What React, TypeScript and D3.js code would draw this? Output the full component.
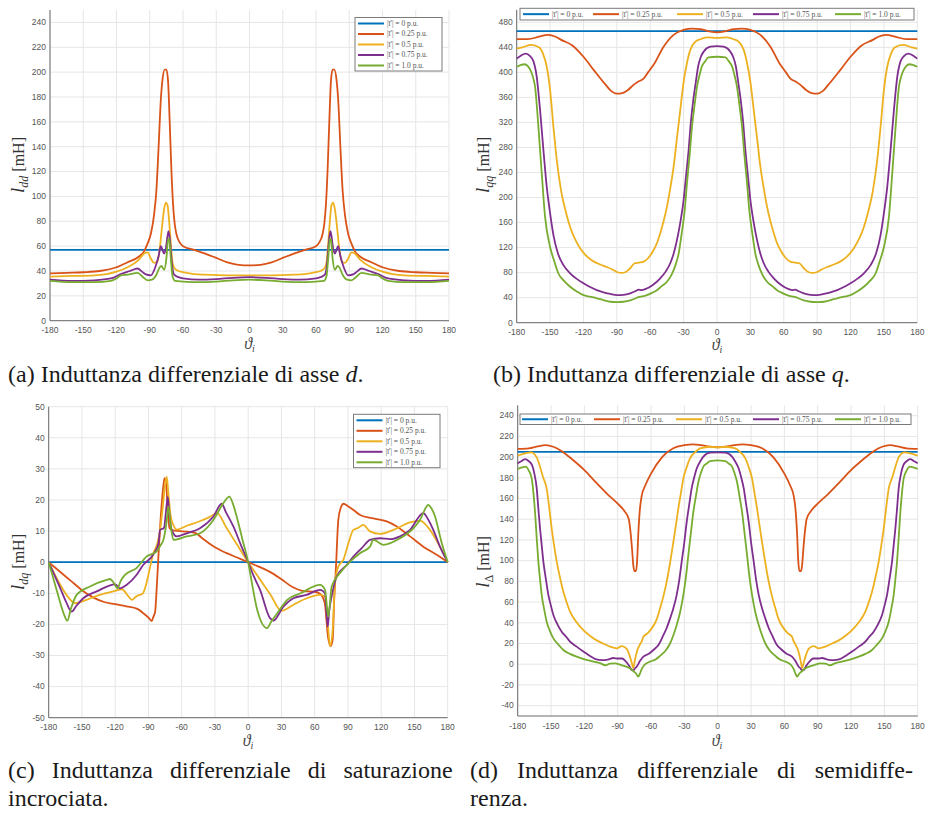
import React from 'react';
import * as d3 from 'd3';

type Pt = [number, number];

// ---- shared axis ticks and legend ----
const thetaTicks = [-180, -150, -120, -90, -60, -30, 0, 30, 60, 90, 120, 150, 180];
const lddTicks = [0, 20, 40, 60, 80, 100, 120, 140, 160, 180, 200, 220, 240];
const lqqTicks = [0, 40, 80, 120, 160, 200, 240, 280, 320, 360, 400, 440, 480];
const ldqTicks = [-50, -40, -30, -20, -10, 0, 10, 20, 30, 40, 50];
const lDeltaTicks = [-40, -20, 0, 20, 40, 60, 80, 100, 120, 140, 160, 180, 200, 220, 240];

const currentLabels = [
  "|ī'| = 0 p.u.",
  "|ī'| = 0.25 p.u.",
  "|ī'| = 0.5 p.u.",
  "|ī'| = 0.75 p.u.",
  "|ī'| = 1.0 p.u.",
];
const seriesColors = ['#0072BD', '#D95319', '#EDB120', '#7E2F8E', '#77AC30'];

// ---- (a) l_dd [mH] vs theta_i ----
const ldd00: Pt[] = [[-180, 57], [180, 57]];
const ldd25: Pt[] = [[-180, 38], [-165, 38.5], [-150, 39], [-135, 40], [-120, 43], [-110, 47], [-100, 51.5], [-95, 56], [-92, 62], [-89, 70], [-86, 86], [-84, 105], [-82, 140], [-80, 178], [-78.5, 194], [-76.5, 202], [-75, 202], [-73.5, 193], [-72, 160], [-70.5, 122], [-69, 94], [-67.5, 78], [-66, 70], [-63, 63], [-60, 60], [-50, 57], [-40, 54], [-30, 50.5], [-20, 47], [-10, 45], [0, 44.5],
  [10, 45], [20, 47], [30, 50.5], [40, 54], [50, 57], [60, 60], [63, 63], [66, 70], [67.5, 78], [69, 94], [70.5, 122], [72, 160], [73.5, 193], [75, 202], [76.5, 202], [78.5, 194], [80, 178], [82, 140], [84, 105], [86, 86], [89, 70], [92, 62], [95, 56], [100, 51.5], [110, 47], [120, 43], [135, 40], [150, 39], [165, 38.5], [180, 38]];
const ldd50: Pt[] = [[-180, 35.5], [-160, 36], [-140, 36.5], [-120, 39.5], [-110, 43], [-100, 49], [-95, 54], [-92, 55], [-89, 50], [-86, 46.5], [-83, 48], [-81, 58], [-79, 75], [-77, 90], [-75.5, 95], [-74, 93], [-72.5, 80], [-71, 62], [-69.5, 47], [-67.5, 42], [-64, 40], [-60, 39], [-50, 37.5], [-40, 37], [-20, 36.5], [0, 36.5],
  [20, 36.5], [40, 37], [50, 37.5], [60, 39], [64, 40], [67.5, 42], [69.5, 47], [71, 62], [72.5, 80], [74, 93], [75.5, 95], [77, 90], [79, 75], [81, 58], [83, 48], [86, 46.5], [89, 50], [92, 55], [95, 54], [100, 49], [110, 43], [120, 39.5], [140, 36.5], [160, 36], [180, 35.5]];
const ldd75: Pt[] = [[-180, 33], [-160, 32], [-140, 32.5], [-125, 34], [-115, 38], [-108, 40], [-101, 42], [-97, 39.5], [-94, 37.5], [-89, 36.5], [-85, 43], [-82, 52], [-80, 60], [-78.5, 57], [-77, 54], [-75.5, 58], [-74, 68], [-73, 72], [-71.5, 62], [-70, 46], [-68, 37], [-64, 35], [-60, 34], [-45, 33], [-30, 33.5], [-15, 34.5], [0, 35],
  [15, 34.5], [30, 33.5], [45, 33], [60, 34], [64, 35], [68, 37], [70, 46], [71.5, 62], [73, 72], [74, 68], [75.5, 58], [77, 54], [78.5, 57], [80, 60], [82, 52], [85, 43], [89, 36.5], [94, 37.5], [97, 39.5], [101, 42], [108, 40], [115, 38], [125, 34], [140, 32.5], [160, 32], [180, 33]];
const ldd100: Pt[] = [[-180, 32], [-160, 31], [-140, 31], [-125, 32], [-120, 34], [-116, 36.5], [-110, 37], [-101, 38.5], [-96, 35], [-92, 32.5], [-88, 33], [-84, 37], [-81, 43], [-79.5, 44], [-77, 41], [-75, 50], [-73.5, 65], [-72.5, 66], [-71, 50], [-69.5, 36], [-67, 32], [-60, 31.5], [-45, 31], [-30, 31.5], [-15, 32.5], [0, 33],
  [15, 32.5], [30, 31.5], [45, 31], [60, 31.5], [67, 32], [69.5, 36], [71, 50], [72.5, 66], [73.5, 65], [75, 50], [77, 41], [79.5, 44], [81, 43], [84, 37], [88, 33], [92, 32.5], [96, 35], [101, 38.5], [110, 37], [116, 36.5], [120, 34], [125, 32], [140, 31], [160, 31], [180, 32]];

// ---- (b) l_qq [mH] vs theta_i ----
const lqq00: Pt[] = [[-180, 466], [180, 466]];
const lqq25: Pt[] = [[-180, 453], [-170, 453], [-160, 457], [-152, 460], [-145, 457], [-140, 452], [-130, 443], [-120, 425], [-110, 402], [-100, 380], [-95, 370], [-90, 366], [-85, 367], [-80, 372], [-75, 380], [-71, 385], [-66, 390], [-62, 400], [-57, 412], [-48, 441], [-39, 460], [-30, 468], [-22, 470], [-15, 469], [-8, 466], [0, 464],
  [8, 466], [15, 469], [22, 470], [30, 468], [39, 460], [48, 441], [57, 412], [62, 400], [66, 390], [71, 385], [75, 380], [80, 372], [85, 367], [90, 366], [95, 370], [100, 380], [110, 402], [120, 425], [130, 443], [140, 452], [145, 457], [152, 460], [160, 457], [170, 453], [180, 453]];
const lqq50: Pt[] = [[-180, 438], [-175, 440], [-167, 444], [-160, 440], [-156, 428], [-153, 409], [-150, 372], [-147, 313], [-144, 260], [-140, 210], [-136, 178], [-132, 153], [-128, 135], [-123, 119], [-117, 106], [-111, 98], [-105, 93], [-99, 89], [-94, 85], [-90, 81], [-86, 79.5], [-82, 81], [-78, 87], [-74, 95], [-70, 96], [-66, 97.5], [-62, 103], [-58, 113], [-54, 127], [-51, 143], [-48, 162], [-45, 185], [-42, 215], [-39, 249], [-36, 295], [-33, 340], [-30, 385], [-27, 415], [-24, 436], [-20, 448], [-15, 453], [-9, 456], [0, 455],
  [9, 456], [15, 453], [20, 448], [24, 436], [27, 415], [30, 385], [33, 340], [36, 295], [39, 249], [42, 215], [45, 185], [48, 162], [51, 143], [54, 127], [58, 113], [62, 103], [66, 97.5], [70, 96], [74, 95], [78, 87], [82, 81], [86, 79.5], [90, 81], [94, 85], [99, 89], [105, 93], [111, 98], [117, 106], [123, 119], [128, 135], [132, 153], [136, 178], [140, 210], [144, 260], [147, 313], [150, 372], [153, 409], [156, 428], [160, 440], [167, 444], [175, 440], [180, 438]];
const lqq75: Pt[] = [[-180, 422], [-176, 427], [-172, 430], [-168, 426], [-165, 418], [-162, 393], [-159, 340], [-156, 276], [-153, 217], [-150, 175], [-147, 140], [-143, 111], [-138, 92], [-132, 79], [-126, 70], [-120, 63], [-114, 57], [-108, 52], [-102, 48.5], [-96, 46], [-90, 44], [-84, 44.5], [-78, 47], [-72.5, 51], [-70.5, 53], [-68, 52], [-64, 54], [-58, 60], [-51, 71], [-46, 82], [-42, 95], [-39, 110], [-36, 132], [-33, 160], [-30, 196], [-27.5, 240], [-25.5, 276], [-23.5, 320], [-21.3, 356], [-19, 385], [-17, 409], [-14.5, 425], [-12, 433], [-6, 441], [0, 442],
  [6, 441], [12, 433], [14.5, 425], [17, 409], [19, 385], [21.3, 356], [23.5, 320], [25.5, 276], [27.5, 240], [30, 196], [33, 160], [36, 132], [39, 110], [42, 95], [46, 82], [51, 71], [58, 60], [64, 54], [68, 52], [70.5, 53], [72.5, 51], [78, 47], [84, 44.5], [90, 44], [96, 46], [102, 48.5], [108, 52], [114, 57], [120, 63], [126, 70], [132, 79], [138, 92], [143, 111], [147, 140], [150, 175], [153, 217], [156, 276], [159, 340], [162, 393], [165, 418], [168, 426], [172, 430], [176, 427], [180, 422]];
const lqq100: Pt[] = [[-180, 409], [-176, 412], [-173, 413], [-170, 410], [-167, 401], [-165, 390], [-163.5, 377], [-160.5, 313], [-157.5, 239], [-154.5, 169], [-150, 121], [-146, 97], [-142.6, 79], [-137, 66], [-132, 57.5], [-126, 50], [-120, 44], [-114, 41.5], [-108, 39], [-102, 36], [-96, 33.5], [-90, 33], [-84, 33.5], [-78, 35.5], [-73, 39], [-70.7, 41], [-67, 42], [-63, 44], [-58, 48], [-54, 52], [-50, 58], [-45, 65.5], [-41, 76], [-37.7, 90], [-34.5, 110], [-31.7, 143], [-29, 180], [-27, 223], [-24.5, 270], [-22.5, 313], [-20, 350], [-18, 377], [-15.5, 397], [-13.7, 409], [-10.5, 418], [-7.7, 424], [0, 425],
  [7.7, 424], [10.5, 418], [13.7, 409], [15.5, 397], [18, 377], [20, 350], [22.5, 313], [24.5, 270], [27, 223], [29, 180], [31.7, 143], [34.5, 110], [37.7, 90], [41, 76], [45, 65.5], [50, 58], [54, 52], [58, 48], [63, 44], [67, 42], [70.7, 41], [73, 39], [78, 35.5], [84, 33.5], [90, 33], [96, 33.5], [102, 36], [108, 39], [114, 41.5], [120, 44], [126, 50], [132, 57.5], [137, 66], [142.6, 79], [146, 97], [150, 121], [154.5, 169], [157.5, 239], [160.5, 313], [163.5, 377], [165, 390], [167, 401], [170, 410], [173, 413], [176, 412], [180, 409]];

// ---- (c) l_dq [mH] vs theta_i ----
const ldq00: Pt[] = [[-180, 0], [180, 0]];
const ldq25: Pt[] = [[-180, 0], [-170, -3], [-160, -6], [-150, -9], [-140, -11.3], [-130, -12.8], [-120, -13.5], [-110, -14.2], [-100, -15], [-95, -16.3], [-90, -17.8], [-87, -18.9], [-85.5, -17.5], [-84, -16], [-82.5, -8], [-81, 2], [-79, 14], [-77, 23], [-75.5, 27], [-74, 25], [-72.5, 16], [-71, 11], [-68, 10.2], [-62, 10], [-55, 9.8], [-48, 9.4], [-40, 7.3], [-30, 4.8], [-20, 3], [-10, 1.5], [0, 0],
  [10, -1.5], [20, -3.2], [30, -5.5], [40, -8], [50, -9.3], [60, -9.5], [65, -10.2], [69, -13], [72, -24], [74.4, -27], [76.2, -25], [77.7, -11], [79, -3], [81.3, 13.6], [83.5, 17.5], [86, 18.8], [90, 18], [95, 16.8], [101, 15.2], [113, 14.1], [125, 13.1], [134, 11.5], [146, 8.3], [158, 5], [170, 2.4], [180, 0]];
const ldq50: Pt[] = [[-180, 0], [-170, -7], [-163, -11], [-156, -13.2], [-146, -12.1], [-134, -10.5], [-120, -9.2], [-114, -8.7], [-108, -11], [-105, -12.1], [-101, -11], [-95, -10], [-92, -7], [-90, -4], [-86, 2.4], [-82, 6], [-79.5, 10.4], [-77, 18], [-75, 25], [-73.5, 27.5], [-72, 22], [-70, 15], [-67, 11.5], [-64.5, 10.5], [-55, 11.8], [-45, 13], [-35, 14.5], [-28, 15.8], [-20, 11.3], [-10, 5.6], [0, 0],
  [10, -5.2], [20, -10.4], [30, -15.6], [40.8, -13.7], [52.8, -11.6], [64.8, -10.5], [69.3, -11], [72.3, -21.8], [73.8, -27], [76.2, -21.8], [78.3, -6.8], [81.3, -1.4], [85.9, 0.8], [90.4, 6.1], [94.9, 10.4], [99, 11], [103.9, 12], [109.9, 9.9], [118.9, 9.1], [131, 10.4], [146, 12.8], [155, 13.4], [164, 10.4], [173, 5], [180, 0]];
const ldq75: Pt[] = [[-180, 0], [-170, -8], [-164, -13], [-159.3, -15.9], [-155, -14], [-148.8, -11.6], [-136.8, -9.4], [-120, -7.1], [-115.8, -8.4], [-109.8, -7.3], [-100.8, -4.1], [-94.8, -0.9], [-85.8, 2.4], [-81, 6], [-79.5, 10.4], [-76, 11], [-74, 17], [-72.6, 21], [-71, 15], [-69, 10.4], [-64.5, 8.3], [-55.5, 9.3], [-43.5, 10.9], [-31.4, 14.7], [-23.9, 18.8], [-20, 16], [-13.4, 11.5], [-6, 5], [0, 0],
  [5, -4.5], [10.7, -8.9], [19.7, -18], [22.7, -18.8], [31.7, -14.3], [40.8, -11.6], [52.8, -10.5], [64.8, -8.9], [69.3, -10], [71.7, -20.7], [73.2, -15.3], [75.3, -11], [79.8, -4.6], [88.8, -0.9], [94.9, 1.8], [102.4, 4.5], [109.9, 7.2], [118.9, 7.7], [128, 7.4], [137, 8.3], [146, 10.4], [158, 15.8], [162, 14], [167, 10.4], [173, 5], [180, 0]];
const ldq100: Pt[] = [[-180, 0], [-172, -10], [-167, -16], [-163.2, -18.8], [-160, -15], [-154.8, -10.5], [-142.8, -7.8], [-127.8, -5.7], [-124.8, -5.4], [-121, -6.8], [-118, -8.4], [-115, -6], [-111.2, -4.1], [-100.8, -1.9], [-91.8, 1.8], [-82.8, 3.4], [-79, 5.5], [-76.5, 7.2], [-74, 12], [-72, 17.9], [-70, 12], [-67.5, 7.2], [-55.5, 8.3], [-43.5, 9.3], [-31.4, 13.6], [-22.4, 19], [-17, 21.1], [-14, 19], [-10.4, 14.7], [-5, 7], [0, 0],
  [4, -8], [8.1, -15.3], [17, -21.2], [21, -19], [26.2, -16.4], [35.2, -12.1], [47.2, -10], [64.8, -7.3], [69.3, -8.9], [72.3, -17.5], [75.3, -7.8], [82.8, -3.5], [91.9, 0.2], [100.9, 2.9], [109.9, 5], [113, 7.2], [117, 6.5], [122, 5.6], [137, 7.7], [149, 10.9], [155, 13.6], [162.5, 18.4], [165, 17.5], [168.6, 14.7], [174, 7], [180, 0]];

// ---- (d) l_Delta [mH] vs theta_i ----
const lD00: Pt[] = [[-180, 205], [180, 205]];
const lD25: Pt[] = [[-180, 208], [-170, 208.5], [-163, 210], [-155, 211.5], [-148, 210], [-140, 205.5], [-130, 197], [-120, 187.5], [-110, 176], [-100, 165], [-90, 155], [-84, 148], [-80, 140], [-78.5, 128], [-77, 110], [-76, 96], [-75, 90], [-73.5, 90], [-72.5, 100], [-71.5, 125], [-70, 150], [-68.5, 162], [-65, 173], [-60, 184], [-50, 200], [-40, 208.5], [-30, 211.5], [-22, 212.3], [-15, 211.5], [-7, 210], [0, 209.5],
  [7, 210], [15, 211.5], [22, 212.3], [30, 211.5], [40, 208.5], [50, 200], [60, 184], [65, 173], [68.5, 162], [70, 150], [71.5, 125], [72.5, 100], [73.5, 90], [75, 90], [76, 96], [77, 110], [78.5, 128], [80, 140], [84, 148], [90, 155], [100, 165], [110, 176], [120, 187.5], [130, 197], [140, 205.5], [148, 210], [155, 211.5], [163, 210], [170, 208.5], [180, 208]];
const lD50: Pt[] = [[-180, 201.4], [-175, 203], [-168, 204.6], [-163, 200], [-160, 191], [-157, 180], [-154, 170], [-151.5, 150], [-149.4, 131], [-147, 113], [-144.9, 99], [-142, 84], [-138.9, 70], [-136, 60], [-132.9, 50.7], [-128, 42], [-120.9, 33], [-115, 27.5], [-108.9, 23], [-103, 20], [-96.9, 17], [-90.9, 15.3], [-86.4, 17.5], [-82, 15], [-79.5, 9], [-77.5, 2], [-76, -3.5], [-74.5, 4], [-72.5, 13], [-70.5, 18], [-68, 23], [-66.9, 26.6], [-63, 30], [-59.4, 34.6], [-55, 43], [-51.9, 54], [-49, 65], [-45.9, 79.7], [-43, 97], [-39.9, 118], [-37.5, 135], [-35.4, 150.5], [-33, 166], [-30.9, 179.5], [-28, 190], [-24.9, 198.8], [-20, 205], [-15.9, 208.5], [-6.9, 210], [0, 209.4],
  [6.9, 210], [15.9, 208.5], [20, 205], [24.9, 198.8], [28, 190], [30.9, 179.5], [33, 166], [35.4, 150.5], [37.5, 135], [39.9, 118], [43, 97], [45.9, 79.7], [49, 65], [51.9, 54], [55, 43], [59.4, 34.6], [63, 30], [66.9, 26.6], [68, 23], [70.5, 18], [72.5, 13], [74.5, 4], [76, -3.5], [77.5, 2], [79.5, 9], [82, 15], [86.4, 17.5], [90.9, 15.3], [96.9, 17], [103, 20], [108.9, 23], [115, 27.5], [120.9, 33], [128, 42], [132.9, 50.7], [136, 60], [138.9, 70], [142, 84], [144.9, 99], [147, 113], [149.4, 131], [151.5, 150], [154, 170], [157, 180], [160, 191], [163, 200], [168, 204.6], [175, 203], [180, 201.4]];
const lD75: Pt[] = [[-180, 194], [-176, 196.5], [-173.4, 198], [-170, 196], [-167, 192], [-165, 184], [-162.9, 170], [-161.4, 150], [-159.9, 131], [-158.4, 115], [-156.9, 99], [-154.6, 82], [-152.4, 67], [-150, 56], [-147.9, 47.5], [-144, 38], [-140.4, 31.4], [-136, 26], [-132.9, 21.8], [-127, 17], [-120.9, 12.2], [-115, 8], [-110, 5], [-104, 4], [-99, 4.5], [-94, 6], [-90, 5.5], [-86, 5.5], [-83, 3], [-80, -1], [-77.5, -5.5], [-76, -6], [-74.5, -4], [-72.9, -2.4], [-70, 3], [-66.9, 7.3], [-62, 10], [-57.9, 13.7], [-53, 19], [-48.9, 28], [-45.9, 35], [-42.9, 44], [-39.9, 54], [-36.9, 67], [-34.5, 82], [-32.4, 99], [-30, 118], [-27.9, 137.5], [-25.5, 155], [-23.4, 170], [-21, 181], [-18.9, 189], [-15.9, 195.5], [-12.9, 200.4], [-6.9, 204.3], [0, 204.6],
  [6.9, 204.3], [12.9, 200.4], [15.9, 195.5], [18.9, 189], [21, 181], [23.4, 170], [25.5, 155], [27.9, 137.5], [30, 118], [32.4, 99], [34.5, 82], [36.9, 67], [39.9, 54], [42.9, 44], [45.9, 35], [48.9, 28], [53, 19], [57.9, 13.7], [62, 10], [66.9, 7.3], [70, 3], [72.9, -2.4], [74.5, -4], [76, -6], [77.5, -5.5], [80, -1], [83, 3], [86, 5.5], [90, 5.5], [94, 6], [99, 4.5], [104, 4], [110, 5], [115, 8], [120.9, 12.2], [127, 17], [132.9, 21.8], [136, 26], [140.4, 31.4], [144, 38], [147.9, 47.5], [150, 56], [152.4, 67], [154.6, 82], [156.9, 99], [158.4, 115], [159.9, 131], [161.4, 150], [162.9, 170], [165, 184], [167, 192], [170, 196], [173.4, 198], [176, 196.5], [180, 194]];
const lD100: Pt[] = [[-180, 188.5], [-176, 190], [-173, 190.8], [-170, 187], [-167.4, 179.5], [-165.8, 165], [-164.4, 147], [-162.9, 122], [-161.4, 99], [-159.9, 82], [-158.4, 67], [-156, 52], [-153.9, 41], [-151, 32], [-147.9, 25], [-143, 18.5], [-138.9, 13.7], [-133, 10], [-126.9, 7.3], [-119, 4.5], [-111.9, 2.5], [-106, 1], [-101, -1], [-97, 0.5], [-92, 0.8], [-88, -0.5], [-83, -2], [-79, -4], [-76, -6.5], [-73.5, -9], [-71.5, -12], [-70, -9], [-68.5, -5], [-66, -0.8], [-61, 2.5], [-56, 4.5], [-51.9, 8], [-47, 13], [-42.9, 20], [-39.9, 28], [-36.9, 37.8], [-33.9, 50], [-30.9, 67], [-28.5, 85], [-26.4, 105.5], [-24, 128], [-21.9, 147], [-19.5, 163], [-17.4, 176], [-15, 185], [-12.9, 190.8], [-9.5, 194], [-6.9, 196.2], [0, 196.9],
  [6.9, 196.2], [9.5, 194], [12.9, 190.8], [15, 185], [17.4, 176], [19.5, 163], [21.9, 147], [24, 128], [26.4, 105.5], [28.5, 85], [30.9, 67], [33.9, 50], [36.9, 37.8], [39.9, 28], [42.9, 20], [47, 13], [51.9, 8], [56, 4.5], [61, 2.5], [66, -0.8], [68.5, -5], [70, -9], [71.5, -12], [73.5, -9], [76, -6.5], [79, -4], [83, -2], [88, -0.5], [92, 0.8], [97, 0.5], [101, -1], [106, 1], [111.9, 2.5], [119, 4.5], [126.9, 7.3], [133, 10], [138.9, 13.7], [143, 18.5], [147.9, 25], [151, 32], [153.9, 41], [156, 52], [158.4, 67], [159.9, 82], [161.4, 99], [162.9, 122], [164.4, 147], [165.8, 165], [167.4, 179.5], [170, 187], [173, 190.8], [176, 190], [180, 188.5]];

// ---- drawing ----
interface Frame { left: number; right: number; top: number; bottom: number }

interface PanelProps {
  frame: Frame;
  yDomain: [number, number];
  yTicks: number[];
  series: Pt[][];
  sub: string;
  subItalic: boolean;
  yNameAt: [number, number];
  xNameAt: [number, number];
  legend: { kind: 'column' | 'row'; x: number; y: number; w: number; h: number; offsets?: number[] };
}

const SERIF = "'Liberation Serif', 'Times New Roman', serif";
const SANS = "'Liberation Sans', Arial, Helvetica, sans-serif";

function Legend({ legend }: { legend: PanelProps['legend'] }) {
  const { kind, x, y, w, h, offsets } = legend;
  return (
    <g>
      <rect x={x} y={y} width={w} height={h} fill="#fff" stroke="#7a7a7a" strokeWidth={1} />
      {currentLabels.map((lab, i) => {
        const lx = kind === 'column' ? x + 3 : x + (offsets ? offsets[i] : 0);
        const ly = kind === 'column' ? y + 6 + i * 10.5 : y + h / 2;
        return (
          <g key={lab}>
            <line x1={lx} x2={lx + 26} y1={ly} y2={ly} stroke={seriesColors[i]} strokeWidth={2} />
            <text x={lx + 29} y={ly} dy="0.33em" fontFamily={SERIF} fontSize={7.5} fill="#555">{lab}</text>
          </g>
        );
      })}
    </g>
  );
}

function Panel(p: PanelProps) {
  const { frame } = p;
  const x = d3.scaleLinear().domain([-180, 180]).range([frame.left, frame.right]);
  const y = d3.scaleLinear().domain(p.yDomain).range([frame.bottom, frame.top]);
  const line = d3.line<Pt>().x(d => x(d[0])).y(d => y(d[1])).curve(d3.curveMonotoneX);
  const grid = '#e6e6e6';
  return (
    <g>
      {thetaTicks.map(t => (
        <line key={'gx' + t} x1={x(t)} x2={x(t)} y1={frame.top} y2={frame.bottom} stroke={grid} strokeWidth={1} />
      ))}
      {p.yTicks.map(v => (
        <line key={'gy' + v} x1={frame.left} x2={frame.right} y1={y(v)} y2={y(v)} stroke={grid} strokeWidth={1} />
      ))}
      <line x1={frame.left} x2={frame.left} y1={frame.top} y2={frame.bottom} stroke="#6b6b6b" strokeWidth={1} />
      <line x1={frame.left} x2={frame.right} y1={frame.bottom} y2={frame.bottom} stroke="#6b6b6b" strokeWidth={1} />
      {thetaTicks.map(t => (
        <text key={'tx' + t} x={x(t)} y={frame.bottom + 12.5} textAnchor="middle" fontFamily={SANS} fontSize={8.5} fill="#555">{t}</text>
      ))}
      {p.yTicks.map(v => (
        <text key={'ty' + v} x={frame.left - 4} y={y(v)} dy="0.33em" textAnchor="end" fontFamily={SANS} fontSize={8.5} fill="#555">{v}</text>
      ))}
      {p.series.map((s, i) => (
        <path key={'s' + i} d={line(s) || ''} fill="none" stroke={seriesColors[i]} strokeWidth={1.8} strokeLinejoin="round" />
      ))}
      <Legend legend={p.legend} />
      <text transform={`translate(${p.yNameAt[0]},${p.yNameAt[1]}) rotate(-90)`} textAnchor="middle" fontFamily={SERIF} fill="#333">
        <tspan fontStyle="italic" fontSize={19}>l</tspan>
        <tspan fontStyle={p.subItalic ? 'italic' : 'normal'} fontSize={12} dy={4}>{p.sub}</tspan>
        <tspan fontSize={16} dy={-4}> [mH]</tspan>
      </text>
      <text x={p.xNameAt[0]} y={p.xNameAt[1]} textAnchor="middle" fontFamily={SERIF} fill="#444">
        <tspan fontStyle="italic" fontSize={16}>ϑ</tspan>
        <tspan fontStyle="italic" fontSize={10} dy={3}>i</tspan>
      </text>
    </g>
  );
}

export default function App() {
  return (
    <svg width={928} height={819} style={{ position: 'absolute', left: 0, top: 0, background: '#fff' }}>
      <rect width={928} height={819} fill="#fff" />
      <Panel
        frame={{ left: 50, right: 449, top: 10, bottom: 320.7 }}
        yDomain={[0, 250]} yTicks={lddTicks}
        series={[ldd00, ldd25, ldd50, ldd75, ldd100]}
        sub="dd" subItalic yNameAt={[24, 165]} xNameAt={[249.5, 349]}
        legend={{ kind: 'column', x: 355, y: 17.5, w: 87, h: 53.5 }}
      />
      <Panel
        frame={{ left: 516.7, right: 917.3, top: 9.8, bottom: 322.7 }}
        yDomain={[0, 500]} yTicks={lqqTicks}
        series={[lqq00, lqq25, lqq50, lqq75, lqq100]}
        sub="qq" subItalic yNameAt={[489, 165]} xNameAt={[717, 350]}
        legend={{ kind: 'row', x: 520, y: 8.3, w: 394, h: 11.7, offsets: [3, 73, 157, 233, 315] }}
      />
      <Panel
        frame={{ left: 48.7, right: 447.7, top: 406.7, bottom: 717.7 }}
        yDomain={[-50, 50]} yTicks={ldqTicks}
        series={[ldq00, ldq25, ldq50, ldq75, ldq100]}
        sub="dq" subItalic yNameAt={[24, 562]} xNameAt={[248, 746]}
        legend={{ kind: 'column', x: 353.5, y: 414.3, w: 86.5, h: 53.4 }}
      />
      <Panel
        frame={{ left: 517.7, right: 917.7, top: 405.3, bottom: 716 }}
        yDomain={[-50, 250]} yTicks={lDeltaTicks}
        series={[lD00, lD25, lD50, lD75, lD100]}
        sub="Δ" subItalic={false} yNameAt={[489, 562]} xNameAt={[717, 746]}
        legend={{ kind: 'row', x: 520, y: 414, w: 391, h: 10.5, offsets: [2, 74, 156, 233, 315] }}
      />
      <g fontFamily={SERIF} fontSize={24} fill="#1a1a1a">
        <text x={8} y={382}>(a) Induttanza differenziale di asse <tspan fontStyle="italic">d</tspan>.</text>
        <text x={493} y={382}>(b) Induttanza differenziale di asse <tspan fontStyle="italic">q</tspan>.</text>
        <text x={8} y={778} wordSpacing={11}>(c) Induttanza differenziale di saturazione</text>
        <text x={8} y={806}>incrociata.</text>
        <text x={470} y={778} wordSpacing={13}>(d) Induttanza differenziale di semidiffe-</text>
        <text x={470} y={806}>renza.</text>
      </g>
    </svg>
  );
}
